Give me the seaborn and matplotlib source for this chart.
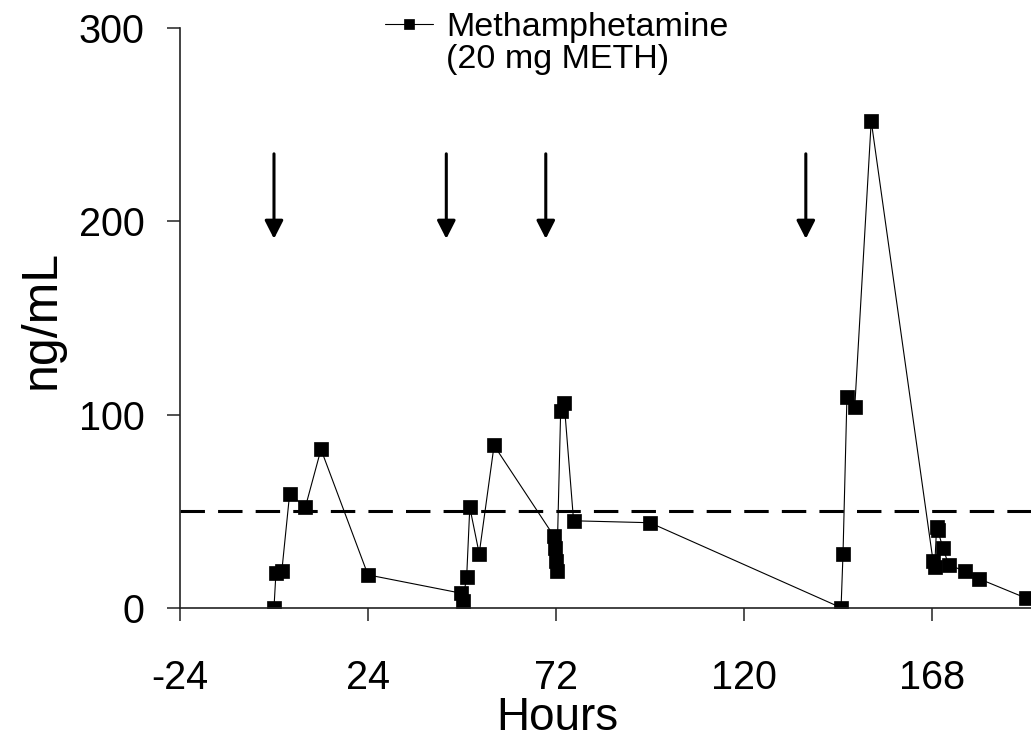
import matplotlib
matplotlib.use("Agg")
from matplotlib import pyplot as plt
from matplotlib.lines import Line2D
import pandas as pd
import seaborn as sns

# Plasma methamphetamine, 20 mg METH doses (arrows mark doses)
hours = [0, 0.5, 2, 4, 8, 12, 24, 47.8, 48.2, 49.2, 50, 52.4, 56.2,
         71.5, 71.8, 72, 72.2, 73.2, 74.1, 76.5, 96,
         144.8, 145.3, 146.3, 148.3, 152.5,
         168.3, 168.7, 169.2, 169.5, 170.8, 172.3, 176.5, 180, 192]
conc_ng_ml = [0, 18, 19, 59, 52, 82, 17, 7.5, 3.5, 16, 52, 28, 84,
              37, 31, 24, 19, 102, 106, 45, 44,
              0, 28, 109, 104, 252,
              24, 21, 42, 40, 31, 22, 19, 15, 5]
dose_hours = [0, 44, 69.4, 135.8]
cutoff = 50
x_ticks = [-24, 24, 72, 120, 168]
y_ticks = [0, 100, 200, 300]

df = pd.DataFrame({'hours': hours, 'conc': conc_ng_ml})

sns.set_style('ticks')
plt.rcParams['font.family'] = ['Liberation Sans', 'DejaVu Sans']
plt.rcParams['axes.unicode_minus'] = False
plt.rcParams['text.color'] = 'black'
plt.rcParams['axes.labelcolor'] = 'black'

fig = plt.figure(figsize=(10.31, 7.43), dpi=100)
ax = fig.add_axes([180 / 1031, (743 - 607.7) / 743, (1031 - 180) / 1031, (607.7 - 28.3) / 743])

ax.axhline(cutoff, color='black', lw=2.2, linestyle=(0, (8, 4.3)), zorder=1.5)

sns.lineplot(data=df, x='hours', y='conc', sort=False, estimator=None,
             marker='s', markersize=9.4, color='black', lw=0.8,
             mec='black', mew=0.5, label='Methamphetamine', ax=ax)

# dose arrows
for h in dose_hours:
    ax.annotate('', xy=(h, 191), xytext=(h, 235),
                arrowprops=dict(arrowstyle='-|>,head_length=0.55,head_width=0.28',
                                lw=2.2, color='black', mutation_scale=20,
                                shrinkA=0, shrinkB=0))

ax.set_xlim(-24, 193.3)
ax.set_ylim(0, 300)
ax.set_xticks(x_ticks)
ax.set_yticks(y_ticks)
sns.despine(ax=ax)
for s in ['left', 'bottom']:
    ax.spines[s].set_linewidth(1.2)
    ax.spines[s].set_color('#222222')
ax.tick_params(axis='both', direction='out', length=9.4, width=1.1, color='#222222',
               labelsize=28.5, labelcolor='black')
ax.tick_params(axis='x', pad=27.5)
ax.tick_params(axis='y', pad=16)

ax.set_xlabel('Hours', fontsize=33)
ax.set_ylabel('ng/mL', fontsize=36)
ax.xaxis.set_label_coords(0.4436, -0.152)
ax.yaxis.set_label_coords(-0.136, 0.497)

handles, labels = ax.get_legend_handles_labels()
blank = Line2D([], [], linestyle='none')
leg = ax.legend(handles + [blank], labels + ['(20 mg METH)'], loc='upper left',
                bbox_to_anchor=(385 / 1031, 1 - 12 / 743), bbox_transform=fig.transFigure,
                frameon=False, fontsize=24.5, handlelength=1.4, handletextpad=0.4,
                borderpad=0, borderaxespad=0, labelspacing=0.02, markerscale=0.8,
                labelcolor='black')

fig.savefig('out.png', dpi=100)
